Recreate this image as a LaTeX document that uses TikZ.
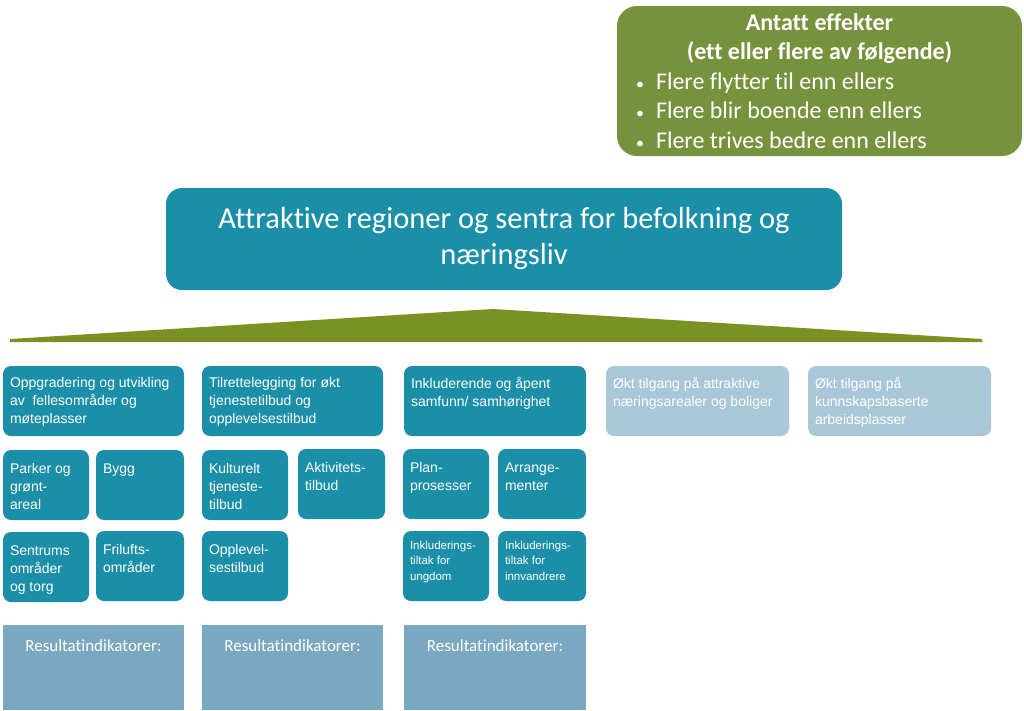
\documentclass[tikz,border=0pt]{standalone}
\usepackage{fontspec}
\setmainfont[Ligatures=NoCommon]{Carlito}
\newfontfamily\arialfont{Liberation Sans}
\usepackage{xcolor}
\definecolor{color1b8fa8}{HTML}{1B8FA8}
\definecolor{colora9c7d8}{HTML}{A9C7D8}
\definecolor{color7ba8c1}{HTML}{7BA8C1}
\definecolor{color77923c}{HTML}{77923C}
\definecolor{color7a9124}{HTML}{7A9124}
\newcommand{\boxtext}[3]{\parbox[c][#1][t]{#2}{\raggedright #3}}
\newcommand{\effpunkt}[1]{\makebox[21pt][c]{\fontsize{16}{16}\selectfont •}\hspace{5.5pt}#1}

\begin{document}
\begin{tikzpicture}
    [x=1pt, y=-1pt,
     tealbox/.style={rectangle, fill=color1b8fa8, rounded corners=8pt, inner sep=0pt, text=white, font=\arialfont\fontsize{14}{18}\selectfont},
     palebox/.style={tealbox, fill=colora9c7d8},
     smallbox/.style={tealbox, font=\arialfont\fontsize{11.5}{15.5}\selectfont},
     resbox/.style={rectangle, fill=color7ba8c1, inner sep=0pt, text=white, font=\fontsize{17}{20}\selectfont},
    ]
\useasboundingbox (0,0) rectangle (1024,710);

% effects and goal
\node[rectangle, fill=color77923c, rounded corners=20pt, minimum width=405, minimum height=150, inner sep=0pt, text=white, font=\fontsize{24}{29.5}\selectfont] (effekter) at (819.5,81) {\begin{minipage}{380pt}\centering\textbf{Antatt effekter}\\ \textbf{(ett eller flere av følgende)}\par\raggedright\effpunkt{Flere flytter til enn ellers}\\ \effpunkt{Flere blir boende enn ellers}\\ \effpunkt{Flere trives bedre enn ellers}\end{minipage}};
\node[rectangle, fill=color1b8fa8, rounded corners=16pt, minimum width=676, minimum height=102, text=white, font=\fontsize{30.5}{36}\selectfont, align=center] (attraktive) at (504,239) {Attraktive regioner og sentra for befolkning og\\ næringsliv};
\fill[color7a9124] (10,342) -- (10,339) -- (493,309) -- (982,339) -- (982,342) -- cycle;

% main areas
\node[tealbox, minimum width=181, minimum height=70] (oppgradering) at (93.5,401) {\boxtext{48pt}{167pt}{Oppgradering og utvikling\\ av \ fellesområder og\\ møteplasser}};
\node[tealbox, minimum width=181, minimum height=70] (tilrettelegging) at (292.5,401) {\boxtext{48pt}{167pt}{Tilrettelegging for økt\\ tjenestetilbud og\\ opplevelsestilbud}};
\node[tealbox, minimum width=182, minimum height=70] (inkluderende) at (495,401) {\boxtext{48pt}{168pt}{Inkluderende og åpent\\ samfunn/ samhørighet}};
\node[palebox, minimum width=183, minimum height=70] (naeringsarealer) at (697.5,401) {\boxtext{48pt}{169pt}{Økt tilgang på attraktive\\ næringsarealer og boliger}};
\node[palebox, minimum width=183, minimum height=70] (arbeidsplasser) at (899.5,401) {\boxtext{48pt}{169pt}{Økt tilgang på\\ kunnskapsbaserte\\ arbeidsplasser}};

% measures
\node[tealbox, minimum width=86, minimum height=70] (parker) at (46,485) {\boxtext{43pt}{72pt}{Parker og\\ grønt-\\ areal}};
\node[tealbox, minimum width=88, minimum height=70] (bygg) at (140,485) {\boxtext{43pt}{74pt}{Bygg}};
\node[tealbox, minimum width=86, minimum height=70] (kulturelt) at (245,485) {\boxtext{43pt}{72pt}{Kulturelt\\ tjeneste-\\ tilbud}};
\node[tealbox, minimum width=87, minimum height=70] (aktivitet) at (341.5,484) {\boxtext{43pt}{73pt}{Aktivitets-\\ tilbud}};
\node[tealbox, minimum width=86, minimum height=70] (plan) at (446,484) {\boxtext{43pt}{72pt}{Plan-\\ prosesser}};
\node[tealbox, minimum width=88, minimum height=70] (arrangement) at (542,484) {\boxtext{43pt}{74pt}{Arrange-\\ menter}};
\node[tealbox, minimum width=86, minimum height=70] (sentrum) at (46,567) {\boxtext{43pt}{72pt}{Sentrums\\ områder\\ og torg}};
\node[tealbox, minimum width=88, minimum height=70] (friluft) at (140,566) {\boxtext{43pt}{74pt}{Frilufts-\\ områder}};
\node[tealbox, minimum width=86, minimum height=70] (opplevelse) at (245,566) {\boxtext{43pt}{72pt}{Opplevel-\\ sestilbud}};
\node[smallbox, minimum width=86, minimum height=70] (inkl_ungdom) at (446,566) {\boxtext{50pt}{72pt}{Inkluderings-\\ tiltak for\\ ungdom}};
\node[smallbox, minimum width=88, minimum height=70] (inkl_innvandrere) at (542,566) {\boxtext{50pt}{74pt}{Inkluderings-\\ tiltak for\\ innvandrere}};

% indicators
\node[resbox, minimum width=181, minimum height=85] (res_a) at (93.5,667.5) {\boxtext{55pt}{167pt}{\centering Resultatindikatorer:}};
\node[resbox, minimum width=181, minimum height=85] (res_b) at (292.5,667.5) {\boxtext{55pt}{167pt}{\centering Resultatindikatorer:}};
\node[resbox, minimum width=182, minimum height=85] (res_c) at (495,667.5) {\boxtext{55pt}{168pt}{\centering Resultatindikatorer:}};

\end{tikzpicture}
\end{document}
